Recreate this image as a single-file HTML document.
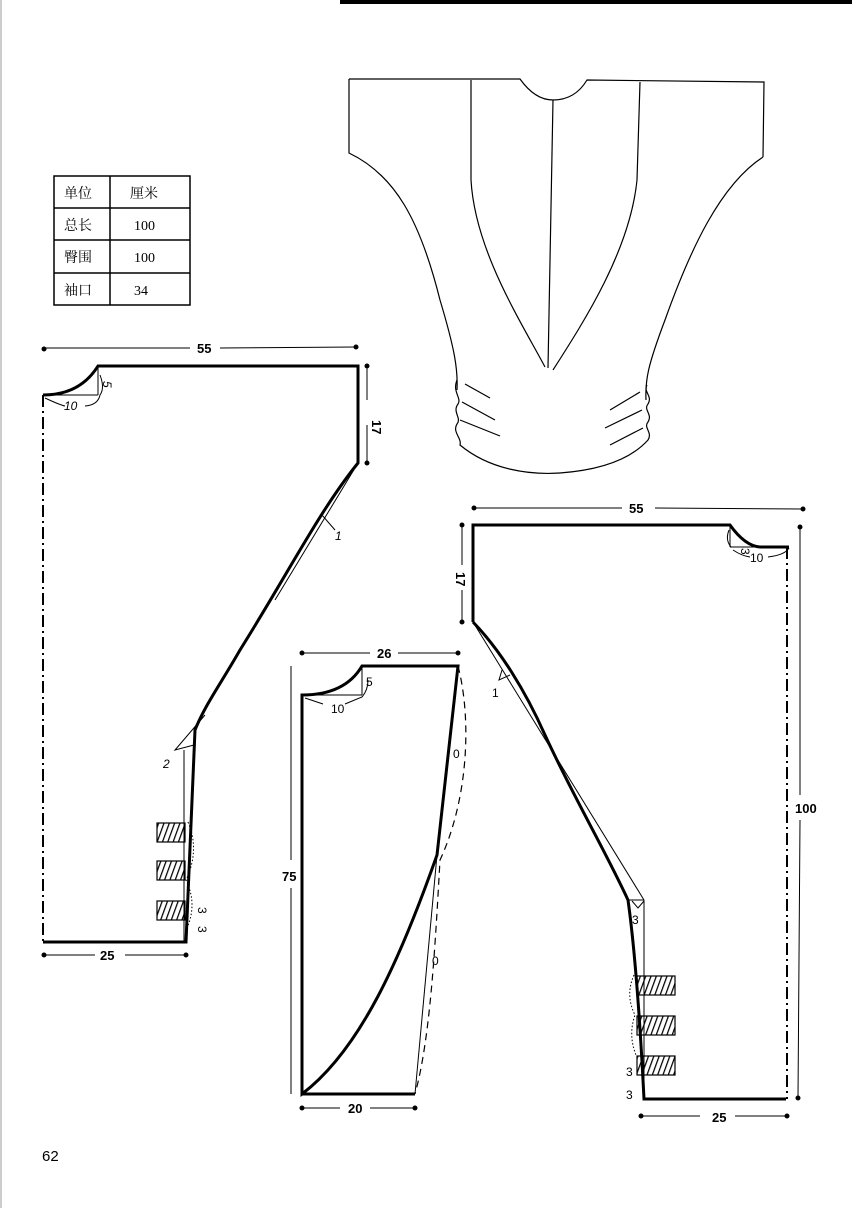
<!DOCTYPE html>
<html><head><meta charset="utf-8"><style>
html,body{margin:0;padding:0;background:#fff}
svg{display:block}
text{font-family:"Liberation Sans","Noto Sans CJK SC",sans-serif;fill:#000}
.c{font-family:"Liberation Serif","Noto Serif CJK SC","Noto Sans CJK SC",serif}
</style></head><body>
<svg width="852" height="1208" viewBox="0 0 852 1208" xmlns="http://www.w3.org/2000/svg">
<line x1="340" y1="2" x2="852" y2="2" stroke="#000" stroke-width="4"/>
<line x1="1" y1="0" x2="1" y2="1208" stroke="#999" stroke-width="1"/>

<!-- table -->
<g stroke="#000" fill="none" stroke-width="1.5">
<rect x="54" y="176" width="136" height="129"/>
<line x1="110" y1="176" x2="110" y2="305"/>
<line x1="54" y1="208" x2="190" y2="208"/>
<line x1="54" y1="240" x2="190" y2="240"/>
<line x1="54" y1="273" x2="190" y2="273"/>
</g>
<g class="c" font-size="14">
<text x="64" y="198" class="c">单位</text><text x="130" y="198" class="c">厘米</text>
<text x="64" y="230" class="c">总长</text><text x="134" y="230" class="c">100</text>
<text x="64" y="262" class="c">臀围</text><text x="134" y="262" class="c">100</text>
<text x="64" y="295" class="c">袖口</text><text x="134" y="295" class="c">34</text>
</g>

<!-- garment sketch -->
<g stroke="#000" fill="none" stroke-width="1.2">
<path d="M349,79 L520,79 Q535,100 553,100 Q575,100 587,80 L764,82 L763,157"/>
<path d="M349,79 L349,153 C395,175 420,220 440,300 C455,350 458,370 457,390"/>
<path d="M763,157 C720,185 690,250 665,320 C648,365 645,380 646,400"/>
<path d="M471,80 L471,180 C475,250 520,320 545,367"/>
<path d="M640,82 L637,180 C630,250 585,320 553,370"/>
<path d="M553,100 L548,368"/>
<path d="M457,380 C452,392 462,398 458,404 C452,412 462,418 457,424 C452,432 462,438 460,445 C490,470 530,475 560,473 C600,470 630,460 648,440 C653,432 643,428 648,422 C653,414 643,410 648,404 C653,396 643,392 647,385"/>
<path d="M465,384 L490,398 M462,402 L495,420 M460,420 L500,436 M640,392 L610,410 M642,410 L605,428 M643,428 L610,445"/>
</g>

<!-- left pattern -->
<g stroke="#000" fill="none">
<line x1="43" y1="348" x2="190" y2="348" stroke-width="1"/>
<line x1="220" y1="348" x2="356" y2="347" stroke-width="1"/>
<circle cx="44" cy="349" r="2" fill="#000"/><circle cx="356" cy="347" r="2" fill="#000"/>
<line x1="367" y1="366" x2="367" y2="400" stroke-width="1"/>
<line x1="367" y1="425" x2="367" y2="463" stroke-width="1"/>
<circle cx="367" cy="366" r="2" fill="#000"/><circle cx="367" cy="463" r="2" fill="#000"/>
<path d="M43,395 Q80,395 98,366 L358,366 L358,463 C320,510 290,570 240,650 C220,685 205,705 195,730 L186,942 L43,942" stroke-width="3"/>
<line x1="43" y1="395" x2="43" y2="942" stroke-width="2" stroke-dasharray="12,4,2,4"/>
<line x1="98" y1="366" x2="98" y2="395" stroke-width="1"/>
<line x1="43" y1="395" x2="98" y2="395" stroke-width="1"/>
<path d="M45,398 Q60,405 65,406 M85,406 Q98,405 100,395 Q105,388 100,375" stroke-width="1"/>
<line x1="358" y1="463" x2="275" y2="600" stroke-width="1"/>
<path d="M318,520 L322,515 L335,530" stroke-width="1"/>
<path d="M205,715 L175,750 L194,745" stroke-width="1"/>
<line x1="184" y1="750" x2="184" y2="942" stroke-width="1"/>
<path d="M188,822 Q200,850 186,880 Q198,905 186,930" stroke-width="1" stroke-dasharray="1.5,2"/>
<line x1="43" y1="955" x2="95" y2="955" stroke-width="1"/>
<line x1="125" y1="955" x2="186" y2="955" stroke-width="1"/>
<circle cx="44" cy="955" r="2" fill="#000"/><circle cx="186" cy="955" r="2" fill="#000"/>
</g>
<defs>
<pattern id="h" width="5" height="5" patternUnits="userSpaceOnUse" patternTransform="rotate(20)">
<line x1="0" y1="0" x2="0" y2="5" stroke="#000" stroke-width="2.5"/></pattern>
</defs>
<g stroke="#000" stroke-width="1.2" fill="url(#h)">
<rect x="157" y="823" width="28" height="19"/>
<rect x="157" y="861" width="28" height="19"/>
<rect x="157" y="901" width="28" height="19"/>
<rect x="637" y="976" width="38" height="19"/>
<rect x="637" y="1016" width="38" height="19"/>
<rect x="637" y="1056" width="38" height="19"/>
</g>
<g font-size="13" font-weight="bold">
<text x="197" y="353">55</text>
<text x="100" y="960">25</text>
<text x="372" y="420" transform="rotate(90 372 420)">17</text>
<text x="103" y="381" transform="rotate(90 103 381)" font-style="italic" font-weight="normal" font-size="12">5</text>
<text x="64" y="410" font-style="italic" font-weight="normal" font-size="12">10</text>
<text x="335" y="540" font-style="italic" font-weight="normal" font-size="12">1</text>
<text x="163" y="768" font-style="italic" font-weight="normal" font-size="12">2</text>
<text x="198" y="907" transform="rotate(90 198 907)" font-weight="normal" font-size="12">3</text>
<text x="198" y="926" transform="rotate(90 198 926)" font-weight="normal" font-size="12">3</text>
</g>

<!-- middle pattern -->
<g stroke="#000" fill="none">
<line x1="302" y1="653" x2="370" y2="653" stroke-width="1"/>
<line x1="398" y1="653" x2="458" y2="653" stroke-width="1"/>
<circle cx="302" cy="653" r="2" fill="#000"/><circle cx="458" cy="653" r="2" fill="#000"/>
<line x1="291" y1="666" x2="291" y2="860" stroke-width="1"/>
<line x1="291" y1="888" x2="291" y2="1094" stroke-width="1"/>
<path d="M302,695 Q345,695 362,666 L458,666 L437,855 C400,960 360,1050 302,1094 Z" stroke-width="3"/>
<line x1="302" y1="1094" x2="415" y2="1094" stroke-width="3"/>
<line x1="415" y1="1094" x2="437" y2="855" stroke-width="1"/>
<line x1="362" y1="666" x2="362" y2="695" stroke-width="1"/>
<line x1="302" y1="695" x2="362" y2="695" stroke-width="1"/>
<path d="M305,698 L323,704 M345,704 L362,697 Q368,690 368,680" stroke-width="1"/>
<path d="M458,666 C472,720 468,800 440,860 C435,950 430,1040 415,1094" stroke-width="1.2" stroke-dasharray="7,5"/>
<line x1="302" y1="1108" x2="340" y2="1108" stroke-width="1"/>
<line x1="370" y1="1108" x2="415" y2="1108" stroke-width="1"/>
<circle cx="302" cy="1108" r="2" fill="#000"/><circle cx="415" cy="1108" r="2" fill="#000"/>
</g>
<g font-size="13" font-weight="bold">
<text x="377" y="658">26</text>
<text x="282" y="881">75</text>
<text x="348" y="1113">20</text>
<text x="366" y="686" font-weight="normal" font-size="12">5</text>
<text x="331" y="713" font-weight="normal" font-size="12">10</text>
<text x="453" y="758" font-weight="normal" font-size="12">0</text>
<text x="432" y="965" font-weight="normal" font-size="12">0</text>
</g>

<!-- right pattern -->
<g stroke="#000" fill="none">
<line x1="473" y1="508" x2="622" y2="508" stroke-width="1"/>
<line x1="655" y1="508" x2="803" y2="509" stroke-width="1"/>
<circle cx="474" cy="508" r="2" fill="#000"/><circle cx="803" cy="509" r="2" fill="#000"/>
<line x1="462" y1="525" x2="462" y2="565" stroke-width="1"/>
<line x1="462" y1="590" x2="462" y2="622" stroke-width="1"/>
<circle cx="462" cy="525" r="2" fill="#000"/><circle cx="462" cy="622" r="2" fill="#000"/>
<line x1="800" y1="527" x2="800" y2="795" stroke-width="1"/>
<line x1="800" y1="820" x2="798" y2="1098" stroke-width="1"/>
<circle cx="800" cy="527" r="2" fill="#000"/><circle cx="798" cy="1098" r="2" fill="#000"/>
<path d="M473,622 L473,525 L730,525 Q745,546 760,547 L789,547" stroke-width="3"/>
<path d="M473,622 C500,650 525,690 545,735 C575,800 605,850 628,900 C635,950 640,1020 644,1099 L786,1099" stroke-width="3"/>
<line x1="787" y1="547" x2="787" y2="1099" stroke-width="2" stroke-dasharray="12,4,2,4"/>
<line x1="730" y1="525" x2="730" y2="547" stroke-width="1"/>
<line x1="730" y1="547" x2="758" y2="547" stroke-width="1"/>
<path d="M733,550 Q742,556 750,557 M768,557 Q785,555 789,548 M729,530 Q725,540 731,547" stroke-width="1"/>
<line x1="473" y1="622" x2="644" y2="900" stroke-width="1"/>
<line x1="628" y1="900" x2="644" y2="900" stroke-width="1"/>
<path d="M632,901 L638,908 L644,901" stroke-width="1"/>
<path d="M502,670 L499,680 L510,675" stroke-width="1"/>
<line x1="644" y1="900" x2="644" y2="1099" stroke-width="1"/>
<path d="M634,975 Q625,995 635,1015 Q628,1035 636,1055" stroke-width="1" stroke-dasharray="1.5,2"/>
<line x1="641" y1="1116" x2="700" y2="1116" stroke-width="1"/>
<line x1="735" y1="1116" x2="787" y2="1116" stroke-width="1"/>
<circle cx="641" cy="1116" r="2" fill="#000"/><circle cx="787" cy="1116" r="2" fill="#000"/>
</g>
<g font-size="13" font-weight="bold">
<text x="629" y="513">55</text>
<text x="712" y="1122">25</text>
<text x="795" y="813">100</text>
<text x="456" y="572" transform="rotate(90 456 572)">17</text>
<text x="741" y="548" transform="rotate(90 741 548)" font-weight="normal" font-size="12">3</text>
<text x="750" y="562" font-weight="normal" font-size="12">10</text>
<text x="492" y="697" font-weight="normal" font-size="12">1</text>
<text x="632" y="924" font-weight="normal" font-size="12">3</text>
<text x="626" y="1076" font-weight="normal" font-size="12">3</text>
<text x="626" y="1099" font-weight="normal" font-size="12">3</text>
</g>

<text x="42" y="1161" font-size="15">62</text>
</svg>
</body></html>
